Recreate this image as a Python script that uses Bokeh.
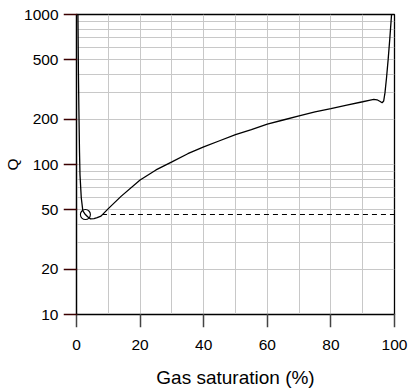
from bokeh.plotting import figure
from bokeh.models import FixedTicker, PrintfTickFormatter
from bokeh.embed import file_html
from bokeh.resources import INLINE

# Data
sat = [0.35, 0.45, 0.6, 0.75, 0.95, 1.1, 1.5, 2.0, 2.8, 3.5, 4.4, 5.5, 6.5, 7.7,
       10, 14, 20, 25, 30, 35, 40, 45, 50, 55, 60, 65, 70, 75, 80, 85, 90,
       92, 93.5, 94.5, 95.5, 96.1, 96.6, 97.0, 97.5, 98.0, 98.5, 99.0, 99.4]
q = [1400, 1000, 420, 233, 120, 85, 60, 49, 46.4, 44.8, 43.4, 43.6, 44.3, 45.3,
     50.8, 61.3, 78.8, 92, 104, 118, 131, 144, 158, 171, 186, 198, 211, 224, 236, 249, 262,
     268, 272, 270, 263, 258, 265, 300, 380, 500, 680, 950, 1250]
marker_x = [2.8]
marker_q = [46.4]
ref_x = [8, 100]
ref_q = [46.4, 46.4]

y_ticks = [10, 20, 50, 100, 200, 500, 1000]
x_ticks = [0, 20, 40, 60, 80, 100]
y_grid = [20, 30, 40, 50, 60, 70, 80, 90, 100, 200, 300, 400, 500, 600, 700, 800, 900]
x_grid = [10, 20, 30, 40, 50, 60, 70, 80, 90]

p = figure(width=410, height=390, y_axis_type="log", x_range=(0, 100), y_range=(10, 1000),
           output_backend="svg", toolbar_location=None,
           min_border_left=76, min_border_right=16, min_border_top=14, min_border_bottom=72)
p.background_fill_color = "white"
p.border_fill_color = "white"
p.outline_line_color = "black"
p.outline_line_width = 1.3

p.xgrid.ticker = FixedTicker(ticks=x_grid)
p.ygrid.ticker = FixedTicker(ticks=y_grid)
for g in (p.xgrid, p.ygrid):
    g.grid_line_color = "#c8c8c8"
    g.grid_line_width = 1

p.xaxis.ticker = FixedTicker(ticks=x_ticks, minor_ticks=[])
p.yaxis.ticker = FixedTicker(ticks=y_ticks, minor_ticks=[])
p.yaxis.formatter = PrintfTickFormatter(format="%d")
p.xaxis.formatter = PrintfTickFormatter(format="%d")

for ax in (p.xaxis, p.yaxis):
    ax.axis_line_color = "black"
    ax.axis_line_width = 1.2
    ax.major_tick_line_width = 1.5
    ax.major_tick_line_cap = "square"
    ax.major_tick_out = 12
    ax.major_tick_in = 0
    ax.major_label_text_font = "Liberation Sans"
    ax.major_label_text_font_size = "15.5px"
    ax.major_label_text_color = "black"
    ax.axis_label_text_font = "Liberation Sans"
    ax.axis_label_text_font_style = "normal"
    ax.axis_label_text_color = "black"

p.xaxis.major_tick_line_color = "#444444"
p.yaxis.major_tick_line_color = "#3a0000"

p.yaxis.major_label_standoff = 6
p.xaxis.major_label_standoff = 13
p.yaxis.axis_label = "Q"
p.yaxis.axis_label_text_font_size = "15.5px"
p.yaxis.axis_label_standoff = 0
p.xaxis.axis_label = "Gas saturation (%)"
p.xaxis.axis_label_text_font_size = "19px"
p.xaxis.axis_label_standoff = 14

p.line(sat, q, line_color="black", line_width=1.3)
p.line(ref_x, ref_q, line_color="black", line_width=1.2, line_dash="5 4")
p.scatter(marker_x, marker_q, marker="circle", size=10, fill_color=None,
          line_color="black", line_width=1.1)

open("out.html", "w").write(file_html(p, INLINE))
